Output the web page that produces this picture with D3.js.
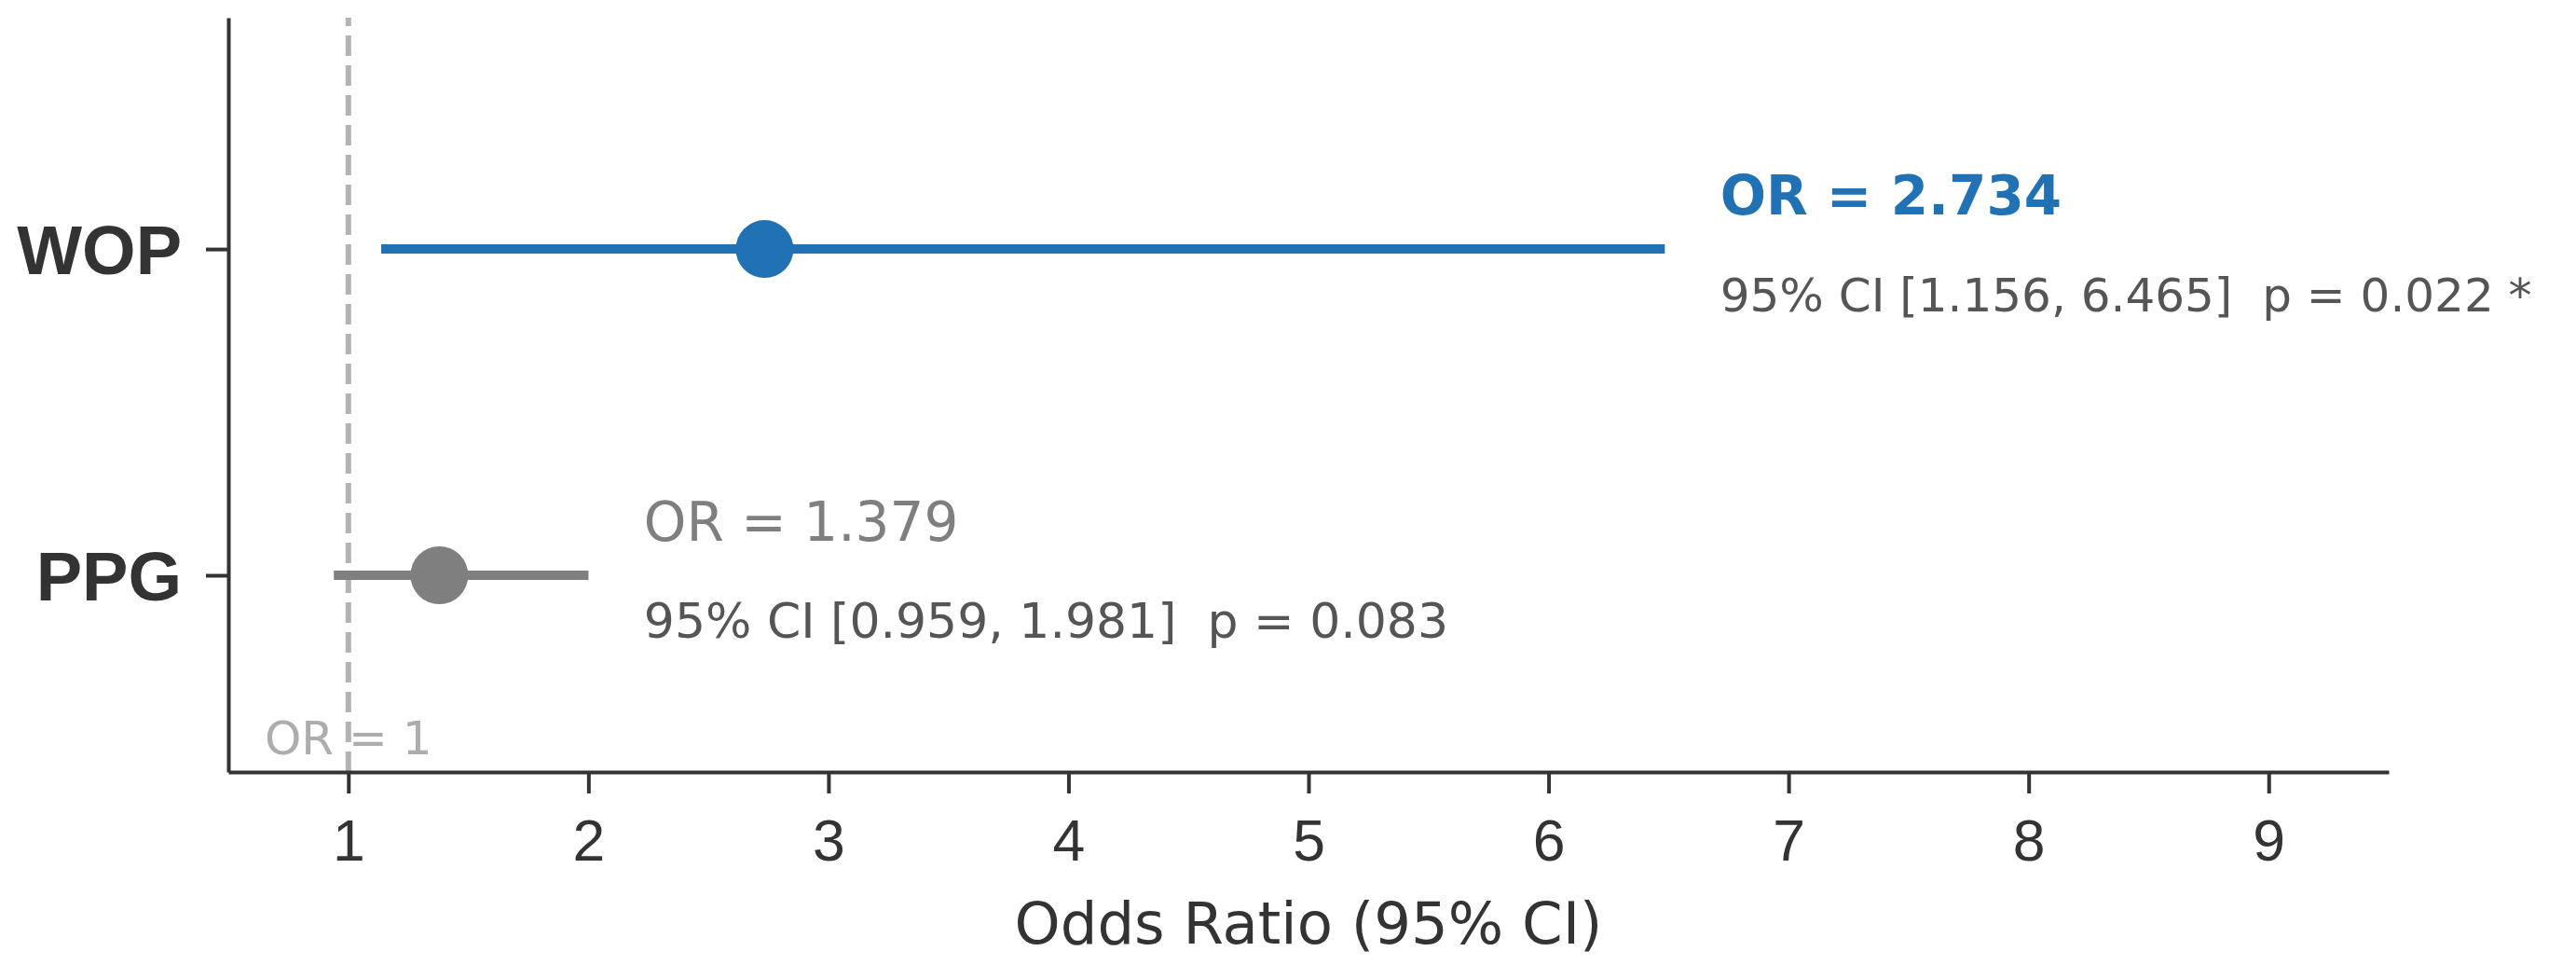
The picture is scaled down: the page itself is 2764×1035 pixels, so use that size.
<!DOCTYPE html>
<html>
<head>
<meta charset="utf-8">
<script src="https://cdn.jsdelivr.net/npm/d3@7"></script>
<style>
  body { margin: 0; background: #fff; }
  svg { display: block; font-family: "DejaVu Sans", sans-serif; }
</style>
</head>
<body>
<div id="chart"></div>
<script>
// forest plot data
const labels = ['WOP', 'PPG'];
const yPos = [1, 0];
const oddsRatio = [2.734, 1.379];
const ciLow = [1.156, 0.959];
const ciHigh = [6.465, 1.981];
const pValues = ['0.022 *', '0.083'];
const significant = [true, false];
const xTicks = [1, 2, 3, 4, 5, 6, 7, 8, 9];

document.addEventListener('DOMContentLoaded', () => {
  const width = 2764;
  const height = 1035;

  const blue = '#2171b5';
  const gray = '#7f7f7f';

  const svg = d3.select('#chart')
                .append('svg')
                .attr('width', width)
                .attr('height', height);

  const xScale = d3.scaleLinear()
                   .domain([0.5, 9.5])
                   .range([245, 2563]);

  const yScale = d3.scaleLinear()
                   .domain([-0.603, 1.709])
                   .range([828, 19]);

  // reference line at OR = 1
  svg.append('line')
     .attr('x1', xScale(1))
     .attr('x2', xScale(1))
     .attr('y1', yScale(-0.603))
     .attr('y2', yScale(1.709))
     .attr('stroke', '#b3b3b3')
     .attr('stroke-width', 6)
     .attr('stroke-dasharray', '22 10');

  svg.append('text')
     .attr('x', xScale(1))
     .attr('y', yScale(-0.55))
     .attr('text-anchor', 'middle')
     .attr('fill', '#adadad')
     .style('font-size', '50px')
     .text('OR = 1');

  // x axis
  const xAxis = d3.axisBottom(xScale)
                  .tickValues(xTicks)
                  .tickFormat(d3.format('d'))
                  .tickSize(23)
                  .tickSizeOuter(0)
                  .tickPadding(28);

  const gx = svg.append('g')
                .attr('transform', 'translate(0,' + yScale(-0.603) + ')')
                .call(xAxis);

  gx.select('.domain').attr('stroke', '#333').attr('stroke-width', 4);
  gx.selectAll('.tick line').attr('stroke', '#333').attr('stroke-width', 4);
  gx.selectAll('.tick text')
    .attr('fill', '#333')
    .style('font-size', '62.5px');

  svg.append('text')
     .attr('x', (xScale.range()[0] + xScale.range()[1]) / 2)
     .attr('y', 1012)
     .attr('text-anchor', 'middle')
     .attr('fill', '#333')
     .style('font-size', '62.5px')
     .text('Odds Ratio (95% CI)');

  // y axis
  const yAxis = d3.axisLeft(yScale)
                  .tickValues(yPos)
                  .tickFormat((d) => labels[yPos.indexOf(d)])
                  .tickSize(24)
                  .tickSizeOuter(0)
                  .tickPadding(26);

  const gy = svg.append('g')
                .attr('transform', 'translate(' + xScale(0.5) + ',0)')
                .call(yAxis);

  gy.select('.domain').attr('stroke', '#333').attr('stroke-width', 4);
  gy.selectAll('.tick line').attr('stroke', '#333').attr('stroke-width', 4);
  gy.selectAll('.tick text')
    .attr('fill', '#333')
    .attr('dy', '0.36em')
    .style('font-size', '74px')
    .style('font-weight', 'bold');

  // CI lines and points
  const rows = labels.map((d, i) => ({
    label: d,
    y: yPos[i],
    or: oddsRatio[i],
    lo: ciLow[i],
    hi: ciHigh[i],
    p: pValues[i],
    sig: significant[i]
  }));

  svg.selectAll('.ci')
     .data(rows)
     .enter()
     .append('line')
     .attr('class', 'ci')
     .attr('x1', (d) => xScale(d.lo))
     .attr('x2', (d) => xScale(d.hi))
     .attr('y1', (d) => yScale(d.y))
     .attr('y2', (d) => yScale(d.y))
     .attr('stroke', (d) => d.sig ? blue : gray)
     .attr('stroke-width', 10)
     .attr('stroke-linecap', 'square');

  svg.selectAll('.pt')
     .data(rows)
     .enter()
     .append('circle')
     .attr('class', 'pt')
     .attr('cx', (d) => xScale(d.or))
     .attr('cy', (d) => yScale(d.y))
     .attr('r', 31)
     .attr('fill', (d) => d.sig ? blue : gray);

  // annotations to the right of each CI
  svg.selectAll('.or-label')
     .data(rows)
     .enter()
     .append('text')
     .attr('class', 'or-label')
     .attr('x', (d) => xScale(d.hi + 0.25))
     .attr('y', (d) => yScale(d.y) - 37)
     .attr('fill', (d) => d.sig ? blue : gray)
     .style('font-size', '58px')
     .style('font-weight', (d) => d.sig ? 'bold' : 'normal')
     .text((d) => 'OR = ' + d.or.toFixed(3));

  svg.selectAll('.ci-label')
     .data(rows)
     .enter()
     .append('text')
     .attr('class', 'ci-label')
     .attr('x', (d) => xScale(d.hi + 0.25))
     .attr('y', (d) => yScale(d.y) + 67)
     .attr('fill', '#555')
     .style('font-size', (d) => d.sig ? '50px' : '52px')
     .style('white-space', 'pre')
     .text((d) => '95% CI [' + d.lo.toFixed(3) + ', ' + d.hi.toFixed(3) + ']  p = ' + d.p);
});
</script>
</body>
</html>
